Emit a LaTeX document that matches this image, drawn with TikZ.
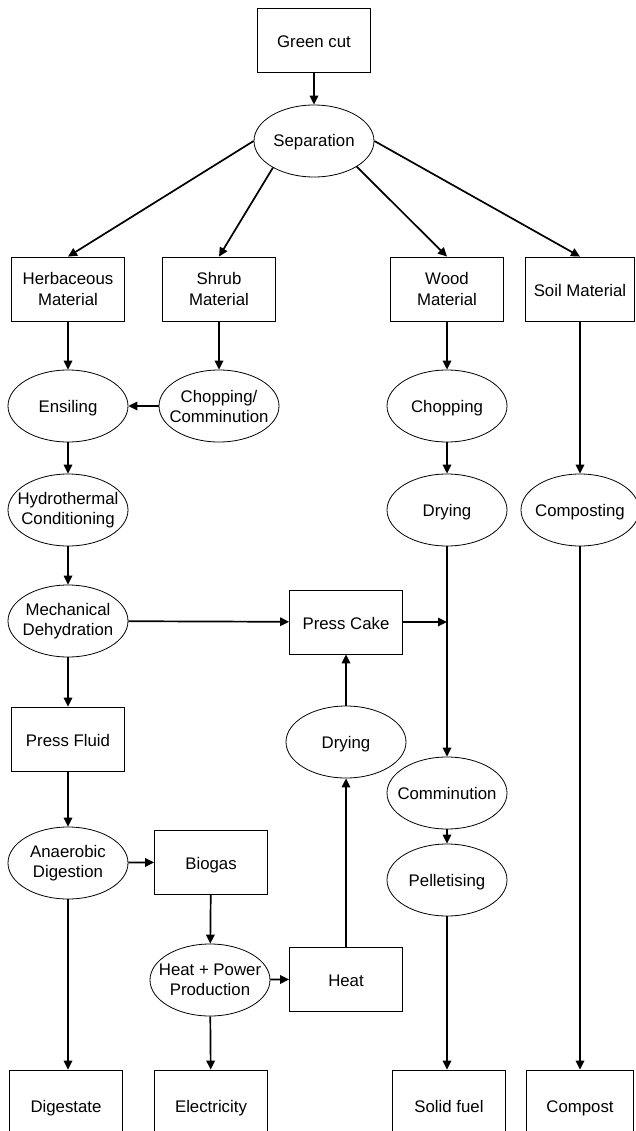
\documentclass[tikz,border=0pt]{standalone}
\usepackage{fontspec}
\setmainfont{Liberation Sans}
\usetikzlibrary{shapes.geometric,arrows.meta}
\tikzset{
    box/.style={draw, line width=0.8pt, minimum width=113pt, minimum height=64pt,
        inner sep=0pt, align=center, font=\fontsize{16.8}{21}\selectfont},
    proc/.style={draw, ellipse, line width=0.8pt, minimum width=120pt, minimum height=72pt,
        inner xsep=-9pt, inner ysep=0pt, align=center, font=\fontsize{16.8}{20}\selectfont},
    boxone/.style={text height=15pt, text depth=0pt},
    procone/.style={text height=12pt, text depth=0pt},
    flow/.style={line width=1.7pt, -{Triangle[length=9pt,width=8.5pt]}}
}
\begin{document}
\begin{tikzpicture}[x=1pt, y=-1pt]
    \useasboundingbox (0,0) rectangle (635,1131);
    % top
    \node[box, boxone] (green) at (314,40) {Green cut};
    \node[proc, procone] (sep) at (314,141) {Separation};
    % materials
    \node[box] (herb) at (68,289) {Herbaceous\\Material};
    \node[box] (shrub) at (219,289) {Shrub\\Material};
    \node[box] (wood) at (447,289) {Wood\\Material};
    \node[box, boxone, minimum width=109pt] (soil) at (580,289) {Soil Material};
    % processes
    \node[proc, procone] (ensil) at (68,406) {Ensiling};
    \node[proc] (chop1) at (219,406) {Chopping/\\Comminution};
    \node[proc, procone] (chop2) at (447,406) {Chopping};
    \node[proc] (hydro) at (68,510) {Hydrothermal\\Conditioning};
    \node[proc, procone] (dry1) at (447,510) {Drying};
    \node[proc, procone, minimum width=118pt] (compo) at (580,510) {Composting};
    \node[proc] (mech) at (68,621) {Mechanical\\Dehydration};
    \node[box, boxone] (cake) at (346,622) {Press Cake};
    \node[box, boxone] (fluid) at (68,739) {Press Fluid};
    \node[proc, procone] (dry2) at (346,742) {Drying};
    \node[proc, procone] (comm) at (447,793) {Comminution};
    \node[proc] (anaer) at (68,863) {Anaerobic\\Digestion};
    \node[box, boxone] (biogas) at (211,862) {Biogas};
    \node[proc, procone] (pellet) at (447,880) {Pelletising};
    \node[proc] (chp) at (210,980) {Heat + Power\\Production};
    \node[box, boxone] (heat) at (346,979) {Heat};
    % products
    \node[box, boxone, minimum height=70pt] (digest) at (66,1105) {Digestate};
    \node[box, boxone, minimum height=70pt] (elec) at (211,1105) {Electricity};
    \node[box, boxone, minimum height=70pt] (fuel) at (449,1105) {Solid fuel};
    \node[box, boxone, minimum height=70pt, minimum width=107pt] (compost) at (580,1105) {Compost};
    \coordinate (join) at (447,622);
    % connectors
    \draw[flow] (green) -- (sep);
    \draw[flow] (sep.180) -- (herb.north);
    \draw[flow] (sep.213) -- (shrub.north);
    \draw[flow] (sep.-31) -- (wood.north);
    \draw[flow] (sep.0) -- (soil.north);
    \draw[flow] (herb) -- (ensil);
    \draw[flow] (shrub) -- (chop1);
    \draw[flow] (chop1) -- (ensil);
    \draw[flow] (ensil) -- (hydro);
    \draw[flow] (hydro) -- (mech);
    \draw[flow] (mech) -- (cake);
    \draw[flow] (mech) -- (fluid);
    \draw[flow] (fluid) -- (anaer);
    \draw[flow] (anaer) -- (biogas);
    \draw[flow] (biogas) -- (chp);
    \draw[flow] (chp) -- (heat);
    \draw[flow] (heat) -- (dry2);
    \draw[flow] (dry2) -- (cake);
    \draw[flow] (cake) -- (join);
    \draw[flow] (wood) -- (chop2);
    \draw[flow] (chop2) -- (dry1);
    \draw[flow] (dry1) -- (comm);
    \draw[flow] (comm) -- (pellet);
    \draw[flow] (soil) -- (compo);
    \draw[flow] (anaer) -- (anaer |- digest.north);
    \draw[flow] (chp) -- (elec);
    \draw[flow] (pellet) -- (fuel.north -| pellet);
    \draw[flow] (compo) -- (compost);
\end{tikzpicture}
\end{document}
